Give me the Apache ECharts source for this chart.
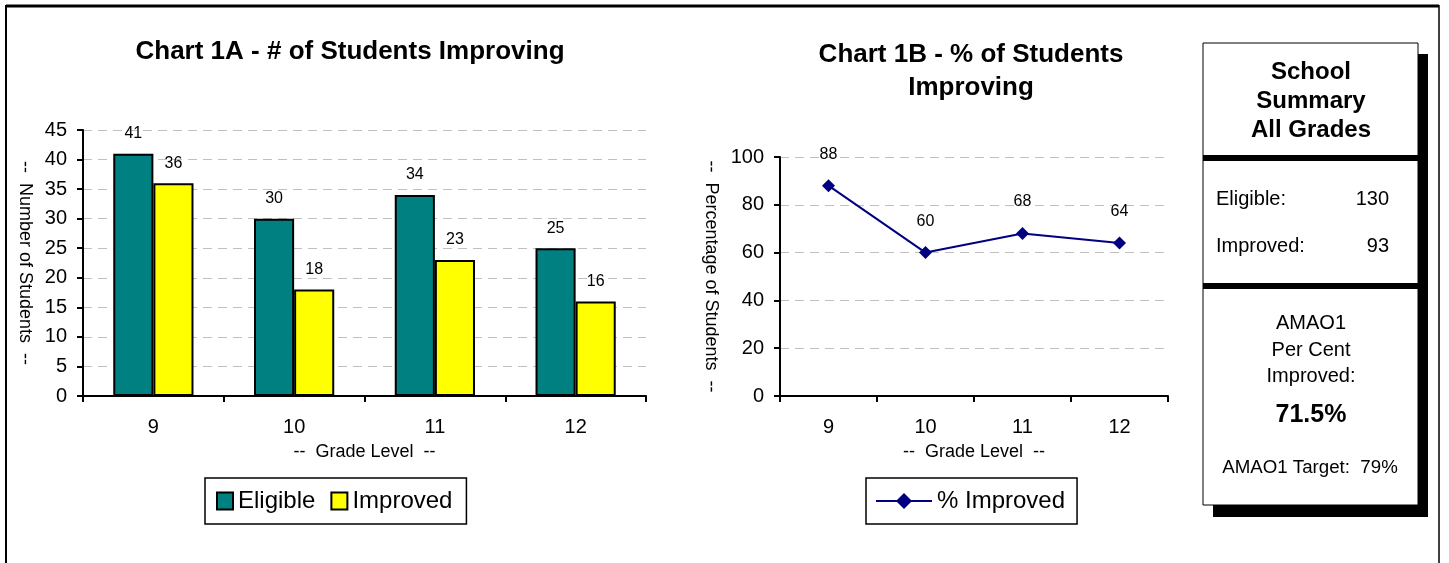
<!DOCTYPE html>
<html>
<head>
<meta charset="utf-8">
<script src="https://cdn.jsdelivr.net/npm/echarts@6/dist/echarts.min.js"></script>
<style>
html,body{margin:0;padding:0;background:#fff;}
#main{width:1449px;height:563px;}
</style>
</head>
<body>
<div id="main"></div>
<script>
// ---- data ----
const grades = ['9', '10', '11', '12'];
const eligible = [41, 30, 34, 25];
const improved = [36, 18, 23, 16];
const pctImproved = [88, 60, 68, 64];
const countAxis = { min: 0, max: 45, interval: 5 };
const pctAxis = { min: 0, max: 100, interval: 20 };
const summaryTitle = ['School', 'Summary', 'All Grades'];
const summaryEligible = 130;
const summaryImproved = 93;
const amaoLines = ['AMAO1', 'Per Cent', 'Improved:'];
const amaoPercent = '71.5%';
const amaoTarget = '79%';

const FONT = '"Liberation Sans", Arial, Helvetica, sans-serif';
const chart = echarts.init(document.getElementById('main'));

const axisLineStyle = { color: '#000', width: 2 };
const gridDash = { color: '#c0c0c0', width: 1, type: [9, 6] };

function txt(x, y, text, size, opts) {
  return {
    type: 'text', x: x, y: y, z: 20,
    style: Object.assign({
      text: text, fontFamily: FONT, fontSize: size, fill: '#000',
      align: 'center', verticalAlign: 'middle'
    }, opts || {})
  };
}

const graphics = [
  // outer frame
  { type: 'line', shape: { x1: 6, y1: 6, x2: 1439, y2: 6 }, style: { stroke: '#000', lineWidth: 3 }, z: 10 },
  { type: 'line', shape: { x1: 6, y1: 5, x2: 6, y2: 563 }, style: { stroke: '#000', lineWidth: 2 }, z: 10 },
  { type: 'line', shape: { x1: 1439, y1: 5, x2: 1439, y2: 563 }, style: { stroke: '#000', lineWidth: 1.5 }, z: 10 },
  // chart titles
  txt(350, 52, 'Chart 1A - # of Students Improving', 26, { fontWeight: 'bold' }),
  txt(971, 55, 'Chart 1B - % of Students', 26, { fontWeight: 'bold' }),
  txt(971, 88, 'Improving', 26, { fontWeight: 'bold' }),
  // summary box shadow + box
  { type: 'rect', shape: { x: 1213, y: 54, width: 215, height: 463 }, style: { fill: '#000' }, z: 11 },
  { type: 'rect', shape: { x: 1203, y: 43, width: 215, height: 462 }, style: { fill: '#fff', stroke: '#000', lineWidth: 1 }, z: 12 },
  { type: 'rect', shape: { x: 1203, y: 155, width: 215, height: 6 }, style: { fill: '#000' }, z: 13 },
  { type: 'rect', shape: { x: 1203, y: 283, width: 215, height: 6 }, style: { fill: '#000' }, z: 13 },
  txt(1311, 72, summaryTitle[0], 24, { fontWeight: 'bold' }),
  txt(1311, 101, summaryTitle[1], 24, { fontWeight: 'bold' }),
  txt(1311, 130, summaryTitle[2], 24, { fontWeight: 'bold' }),
  txt(1216, 199, 'Eligible:', 20, { align: 'left' }),
  txt(1389, 199, String(summaryEligible), 20, { align: 'right' }),
  txt(1216, 246, 'Improved:', 20, { align: 'left' }),
  txt(1389, 246, String(summaryImproved), 20, { align: 'right' }),
  txt(1311, 323, amaoLines[0], 20),
  txt(1311, 350, amaoLines[1], 20),
  txt(1311, 376, amaoLines[2], 20),
  txt(1311, 415, amaoPercent, 25, { fontWeight: 'bold' }),
  txt(1310, 468, 'AMAO1 Target:  ' + amaoTarget, 18.7)
];

const option = {
  backgroundColor: '#fff',
  animation: false,
  textStyle: { fontFamily: FONT, color: '#000' },
  grid: [
    { left: 83, top: 130, width: 563, height: 266 },
    { left: 780, top: 157, width: 388, height: 239 }
  ],
  legend: [
    {
      left: 205, top: 478, orient: 'horizontal',
      data: ['Eligible', 'Improved'],
      icon: 'rect', itemWidth: 16, itemHeight: 17, itemGap: 15,
      padding: [11, 14, 11, 11],
      borderColor: '#000', borderWidth: 1.5, borderRadius: 0,
      textStyle: { fontSize: 24, color: '#000', fontFamily: FONT }
    },
    {
      left: 866, top: 478, orient: 'horizontal',
      data: ['% Improved'],
      itemWidth: 56, itemHeight: 20,
      padding: [11, 12, 11, 9],
      borderColor: '#000', borderWidth: 1.5, borderRadius: 0,
      textStyle: { fontSize: 24, color: '#000', fontFamily: FONT }
    }
  ],
  xAxis: [
    {
      gridIndex: 0, type: 'category', data: grades, boundaryGap: true,
      axisLine: { lineStyle: axisLineStyle },
      axisTick: { show: true, length: 6, lineStyle: { color: '#000', width: 2 } },
      axisLabel: { fontSize: 20, margin: 21, color: '#000' },
      name: '--  Grade Level  --', nameLocation: 'middle', nameGap: 47,
      nameTextStyle: { fontSize: 18, color: '#000' }
    },
    {
      gridIndex: 1, type: 'category', data: grades, boundaryGap: true,
      axisLine: { lineStyle: axisLineStyle },
      axisTick: { show: true, length: 6, lineStyle: { color: '#000', width: 2 } },
      axisLabel: { fontSize: 20, margin: 21, color: '#000' },
      name: '--  Grade Level  --', nameLocation: 'middle', nameGap: 47,
      nameTextStyle: { fontSize: 18, color: '#000' }
    }
  ],
  yAxis: [
    {
      gridIndex: 0, type: 'value', min: countAxis.min, max: countAxis.max, interval: countAxis.interval,
      axisLine: { show: true, lineStyle: axisLineStyle },
      axisTick: { show: true, length: 6, lineStyle: { color: '#000', width: 2 } },
      axisLabel: { fontSize: 20, margin: 16, color: '#000' },
      splitLine: { show: true, lineStyle: gridDash },
      name: '--  Number of Students  --', nameLocation: 'middle', nameRotate: -90, nameGap: 49,
      nameTextStyle: { fontSize: 18, color: '#000' }
    },
    {
      gridIndex: 1, type: 'value', min: pctAxis.min, max: pctAxis.max, interval: pctAxis.interval,
      axisLine: { show: true, lineStyle: axisLineStyle },
      axisTick: { show: true, length: 6, lineStyle: { color: '#000', width: 2 } },
      axisLabel: { fontSize: 20, margin: 16, color: '#000' },
      splitLine: { show: true, lineStyle: gridDash },
      name: '--  Percentage of Students  --', nameLocation: 'middle', nameRotate: -90, nameGap: 60,
      nameTextStyle: { fontSize: 18, color: '#000' }
    }
  ],
  series: [
    {
      name: 'Eligible', type: 'bar', xAxisIndex: 0, yAxisIndex: 0, data: eligible,
      barGap: '0%', barCategoryGap: '43%',
      itemStyle: { color: '#008080', borderColor: '#000', borderWidth: 2 },
      label: { show: true, position: 'top', distance: 12, fontSize: 16, color: '#000' }
    },
    {
      name: 'Improved', type: 'bar', xAxisIndex: 0, yAxisIndex: 0, data: improved,
      barGap: '0%', barCategoryGap: '43%',
      itemStyle: { color: '#ffff00', borderColor: '#000', borderWidth: 2 },
      label: { show: true, position: 'top', distance: 12, fontSize: 16, color: '#000' }
    },
    {
      name: '% Improved', type: 'line', xAxisIndex: 1, yAxisIndex: 1, data: pctImproved,
      symbol: 'diamond', symbolSize: 13,
      lineStyle: { color: '#000080', width: 2 },
      itemStyle: { color: '#000080' },
      label: { show: true, position: 'top', distance: 17, fontSize: 16, color: '#000' }
    }
  ],
  graphic: graphics
};
chart.setOption(option);
</script>
</body>
</html>
